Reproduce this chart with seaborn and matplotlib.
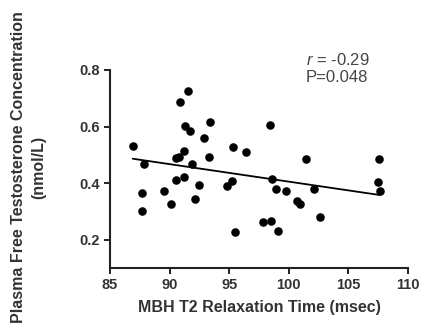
import numpy as np
import pandas as pd
import matplotlib
matplotlib.use('Agg')
import matplotlib.pyplot as plt
import seaborn as sns

## 讀圖估計的數值
t2_time = [86.9, 87.85, 87.7, 87.7, 89.5, 90.1, 90.5, 90.5, 90.8, 90.85,
           91.2, 91.2, 91.3, 91.57, 91.7, 91.9, 92.1, 92.5, 92.9, 93.3,
           93.4, 94.8, 95.2, 95.3, 95.5, 96.4, 97.8, 98.4, 98.5, 98.6,
           98.9, 99.1, 99.8, 100.65, 100.9, 101.4, 102.1, 102.6, 107.5, 107.6,
           107.65]
free_t = [0.531, 0.467, 0.366, 0.302, 0.372, 0.327, 0.411, 0.488, 0.491, 0.686,
          0.515, 0.421, 0.602, 0.727, 0.583, 0.467, 0.343, 0.394, 0.559, 0.491,
          0.617, 0.390, 0.409, 0.529, 0.229, 0.511, 0.262, 0.606, 0.268, 0.415,
          0.379, 0.232, 0.372, 0.338, 0.325, 0.484, 0.379, 0.280, 0.405, 0.484,
          0.372]
x_ticks = [85, 90, 95, 100, 105, 110]
y_ticks = [0.2, 0.4, 0.6, 0.8]

df = pd.DataFrame({'t2': t2_time, 'ft': free_t})

sns.set_style('ticks')
plt.rcParams['font.family'] = ['Liberation Sans', 'DejaVu Sans']
plt.rcParams['mathtext.fontset'] = 'custom'
plt.rcParams['mathtext.it'] = 'Liberation Sans:italic'
plt.rcParams['mathtext.rm'] = 'Liberation Sans'

fig = plt.figure(figsize=(4.25, 3.33), dpi=100)
ax = fig.add_axes([0.259, 0.195, 0.701, 0.595])

sns.regplot(data=df, x='t2', y='ft', ax=ax, ci=None, color='black',
            scatter_kws={'s': 38, 'linewidths': 0, 'alpha': 1},
            line_kws={'linewidth': 1.3})

ax.set_xlim(85, 110)
ax.set_ylim(0.1, 0.8)
ax.set_xticks(x_ticks)
ax.set_yticks(y_ticks)
ax.set_xticklabels([str(v) for v in x_ticks])
ax.set_yticklabels([f'{v:.1f}' for v in y_ticks])
ax.tick_params(labelsize=10.5, width=1.4, length=4, colors='#222222', labelcolor='#333333')
for lab in ax.get_xticklabels() + ax.get_yticklabels():
    lab.set_fontweight('bold')
for side in ['left', 'bottom']:
    ax.spines[side].set_linewidth(1.5)
    ax.spines[side].set_color('#222222')
sns.despine(ax=ax)

ax.set_xlabel('MBH T2 Relaxation Time (msec)', fontsize=11.5, fontweight='bold', color='#333333')
ax.set_ylabel('Plasma Free Testosterone Concentration\n(nmol/L)', fontsize=11.5,
              fontweight='bold', color='#333333', linespacing=1.45)
ax.xaxis.set_label_coords(0.5, -0.16)
ax.yaxis.set_label_coords(-0.215, 0.51)

ax.text(101.4, 0.835, r'$\it{r}$ = -0.29', fontsize=12, color='#444444', va='center', clip_on=False)
ax.text(101.4, 0.772, 'P=0.048', fontsize=12, color='#444444', va='center', clip_on=False)

fig.savefig('out.png', dpi=100)
